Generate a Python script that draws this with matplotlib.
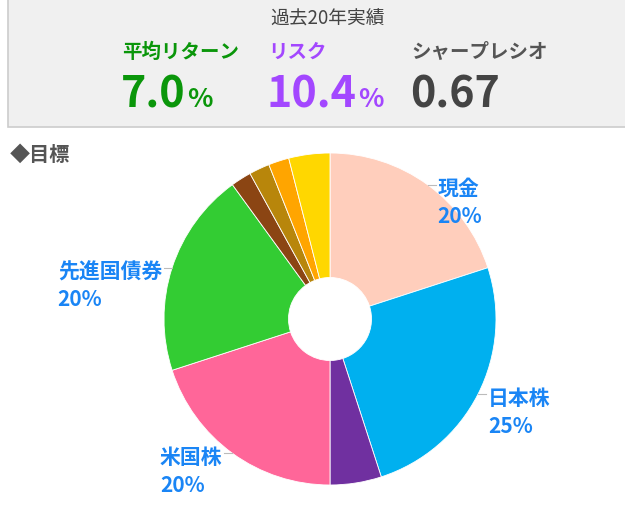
import numpy as np
import matplotlib.pyplot as plt
from matplotlib.patches import Rectangle

plt.rcParams['font.family'] = ['Noto Sans CJK JP', 'DejaVu Sans']

# Summary numbers
title = "過去20年実績"
metric_names = ["平均リターン", "リスク", "シャープレシオ"]
metric_values = ["7.0", "10.4", "0.67"]
metric_units = ["%", "%", ""]

# Target allocation
assets = ["現金", "日本株", "", "米国株", "先進国債券", "", "", "", ""]
weights = [20, 25, 5, 20, 20, 2, 2, 2, 4]
colors = ["#FFCEBC", "#00B0EF", "#7030A0", "#FF6699", "#33CC33",
          "#8B4513", "#B8860B", "#FFA500", "#FFD700"]

W, H = 625, 516
fig = plt.figure(figsize=(W / 100, H / 100), dpi=100)

def fx(x):
    return x / W

def fy(y):
    return 1 - y / H

# grey header panel
fig.patches.append(Rectangle((fx(8), fy(127)), 1.0, 1.0, transform=fig.transFigure,
                             facecolor="#F0F0F0", edgecolor="#CCCCCC", lw=1.2))

fig.text(fx(328), fy(19), title, ha="center", va="center", fontsize=13.5, color="#444444")

name_colors = ["#0A960A", "#A347FF", "#555555"]
value_colors = ["#0A960A", "#A347FF", "#444444"]
xs = [122, 268, 411]
fig.canvas.draw()
renderer = fig.canvas.get_renderer()
for x, n, v, u, nc, vc in zip(xs, metric_names, metric_values, metric_units, name_colors, value_colors):
    fig.text(fx(x), fy(52), n, ha="left", va="center", fontsize=14, fontweight="bold", color=nc)
    t = fig.text(fx(x - 1), fy(107), v, ha="left", va="baseline", fontsize=31, color=vc,
                 fontweight="bold")
    if u:
        bb = t.get_window_extent(renderer)
        fig.text(bb.x1 / W + 0.002, fy(107), u, ha="left", va="baseline", fontsize=19, color=vc,
                 fontweight="bold")

fig.text(fx(10), fy(154), "◆目標", ha="left", va="center", fontsize=14.5,
         fontweight="bold", color="#555555")

# donut
ax = fig.add_axes([fx(164), fy(485), 332 / W, 332 / H])
wedges, _ = ax.pie(weights, colors=colors, startangle=90, counterclock=False,
                   wedgeprops=dict(width=0.75, edgecolor="white", linewidth=0.6))
ax.set_xlim(-1, 1)
ax.set_ylim(-1, 1)
ax.set_aspect("equal")

px = 1 / 166
for w, name, val in zip(wedges, assets, weights):
    if not name:
        continue
    mid = np.deg2rad((w.theta1 + w.theta2) / 2)
    x, y = np.cos(mid), np.sin(mid)
    side = 1 if x > 0 else -1
    ax.plot([x, x + side * 8 * px], [y, y], color="#BBBBBB", lw=0.8, clip_on=False)
    tx = x + side * 10 * px
    ha = "left" if side > 0 else "right"
    name_t = ax.text(tx, y - 4 * px, name, ha=ha, va="center", fontsize=15,
                     fontweight="bold", color="#1A85F5")
    # percent line starts at the left edge of the name
    bb = name_t.get_window_extent(renderer)
    left = ax.transData.inverted().transform((bb.x0, bb.y0))[0]
    ax.text(left, y - 32 * px, f"{val}%", ha="left", va="center", fontsize=15,
            color="#1A85F5", fontweight="bold")

fig.savefig("out.png", dpi=100)
